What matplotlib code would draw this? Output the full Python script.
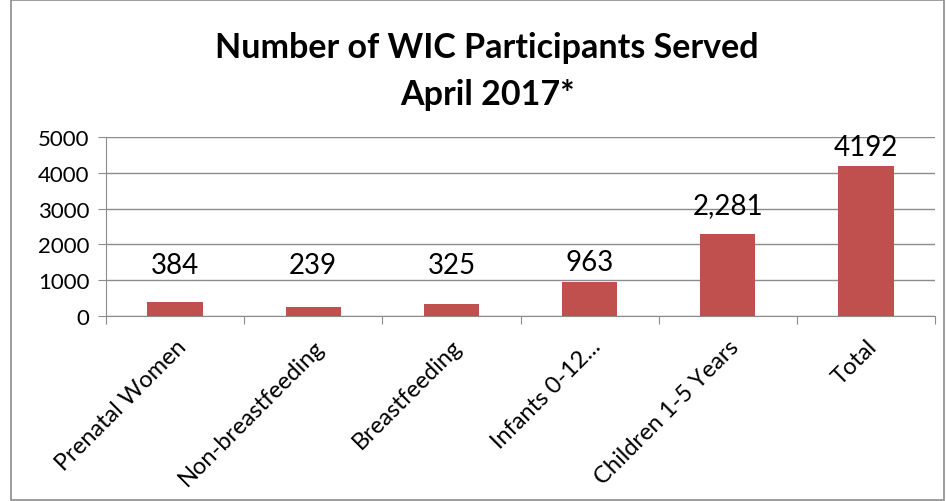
import matplotlib
matplotlib.use("Agg")
import matplotlib.pyplot as plt
from matplotlib.patches import Rectangle

categories = ["Prenatal Women", "Non-breastfeeding", "Breastfeeding",
              "Infants 0-12...", "Children 1-5 Years", "Total"]
values = [384, 239, 325, 963, 2281, 4192]
value_labels = ["384", "239", "325", "963", "2,281", "4192"]
yticks = [0, 1000, 2000, 3000, 4000, 5000]

plt.rcParams['font.family'] = ['Lato', 'DejaVu Sans']

W, H = 947, 502
fig = plt.figure(figsize=(W / 100, H / 100), dpi=100)
fig.patches.append(Rectangle((11 / W, 0.002), (944 - 11) / W, 0.996,
                             transform=fig.transFigure, fill=False,
                             edgecolor='#8c8c8c', linewidth=1.2))

ax = fig.add_axes([106 / W, 1 - 317 / H, (935 - 106) / W, (317 - 138) / H])
x = list(range(len(categories)))
ax.bar(x, values, width=0.4, color='#C0504D', zorder=3)
for xi, v, lab in zip(x, values, value_labels):
    ly = min(max(v * 1.2, 1050), 4350)
    ax.text(xi, ly, lab, ha='center', va='bottom', fontsize=20, color='black')

ax.set_xlim(-0.5, len(categories) - 0.5)
ax.set_ylim(0, 5000)
ax.set_yticks(yticks)
ax.set_yticklabels([str(t) for t in yticks], fontsize=16)
ax.yaxis.grid(True, color='#8c8c8c', linewidth=1)
ax.set_axisbelow(True)

ax.set_xticks([i - 0.5 for i in range(len(categories) + 1)], minor=False)
ax.set_xticklabels([])
ax.set_xticks(x, minor=True)
ax.set_xticklabels(categories, minor=True, rotation=45, ha='right',
                   rotation_mode='anchor', fontsize=17)
ax.tick_params(axis='x', which='minor', length=0, pad=14)
ax.tick_params(axis='x', which='major', length=6, color='#8c8c8c', direction='out')
ax.tick_params(axis='y', length=6, color='#8c8c8c', direction='out', pad=6)

for s in ['top', 'right']:
    ax.spines[s].set_visible(False)
for s in ['left', 'bottom']:
    ax.spines[s].set_color('#8c8c8c')

fig.text(487 / W, 1 - 48 / H, "Number of WIC Participants Served", ha='center',
         va='center', fontsize=24.5, fontweight='bold')
fig.text(487 / W, 1 - 95 / H, "April 2017*", ha='center', va='center',
         fontsize=24.5, fontweight='bold')

fig.savefig("out.png", dpi=100)
